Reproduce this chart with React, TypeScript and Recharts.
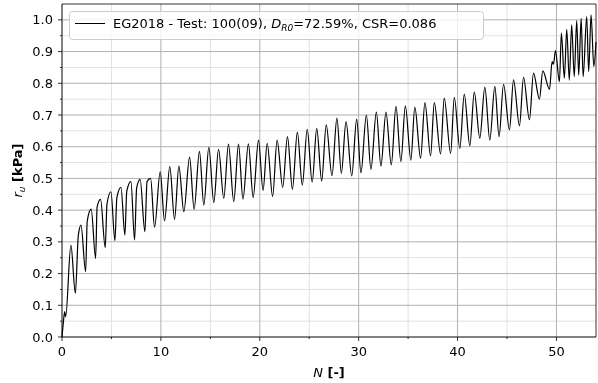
import React from 'react';
import { LineChart, Line, XAxis, YAxis, CartesianGrid, ReferenceLine, Legend, Label } from 'recharts';

// turning points of the pore pressure trace
const cycleN = [
  0, 0.15, 0.27, 0.37, 0.9, 1.35, 1.65, 1.92, 2.39, 2.55, 2.95, 3.4, 3.55, 3.9, 4.37, 4.55, 4.95,
  5.35, 5.55, 5.96, 6.36, 6.55, 6.97, 7.34, 7.55, 7.9, 8.38, 8.6, 8.96, 9.36, 9.93, 10.37, 10.9,
  11.38, 11.82, 12.32, 12.9, 13.36, 13.9, 14.34, 14.85, 15.35, 15.83, 16.36, 16.83, 17.37, 17.85,
  18.3, 18.85, 19.33, 19.87, 20.33, 20.75, 21.3, 21.75, 22.32, 22.8, 23.3, 23.8, 24.3, 24.8, 25.3,
  25.76, 26.26, 26.72, 27.3, 27.8, 28.25, 28.72, 29.3, 29.8, 30.23, 30.78, 31.24, 31.79, 32.25,
  32.76, 33.3, 33.77, 34.27, 34.72, 35.28, 35.68, 36.26, 36.7, 37.27, 37.65, 38.28, 38.65, 39.3,
  39.67, 40.23, 40.68, 41.24, 41.69, 42.25, 42.76, 43.26, 43.77, 44.2, 44.65, 45.25, 45.66, 46.26,
  46.67, 47.27, 47.68, 48.28, 48.62, 49.3, 49.56, 49.7, 49.9, 50.3, 50.5, 50.8, 51.04, 51.3, 51.54,
  51.8, 52.05, 52.25, 52.5, 52.7, 53.06, 53.26, 53.5, 53.78, 54.0,
];
const ruValues = [
  0, 0.05, 0.08, 0.064, 0.29, 0.138, 0.32, 0.353, 0.206, 0.365, 0.403, 0.248, 0.41, 0.434, 0.282, 0.42, 0.458,
  0.304, 0.44, 0.472, 0.322, 0.46, 0.49, 0.306, 0.47, 0.497, 0.332, 0.49, 0.5, 0.346, 0.521, 0.366, 0.537,
  0.371, 0.539, 0.395, 0.567, 0.403, 0.585, 0.416, 0.598, 0.424, 0.592, 0.437, 0.608, 0.427, 0.608,
  0.435, 0.609, 0.44, 0.621, 0.462, 0.611, 0.443, 0.621, 0.472, 0.632, 0.466, 0.646, 0.479, 0.655, 0.488,
  0.658, 0.492, 0.669, 0.509, 0.69, 0.516, 0.679, 0.508, 0.687, 0.518, 0.7, 0.529, 0.709, 0.539,
  0.709, 0.543, 0.727, 0.553, 0.729, 0.558, 0.725, 0.564, 0.739, 0.571, 0.739, 0.577, 0.753, 0.579,
  0.756, 0.595, 0.766, 0.603, 0.772, 0.627, 0.788, 0.621, 0.79, 0.632, 0.797, 0.653, 0.811, 0.666,
  0.819, 0.685, 0.832, 0.75, 0.839, 0.781, 0.868, 0.86, 0.903, 0.805, 0.958, 0.816, 0.97, 0.81, 0.984,
  0.821, 0.998, 0.826, 1.005, 0.821, 1.01, 0.837, 1.016, 0.853, 0.93,
];

const xMajorTicks = [0, 10, 20, 30, 40, 50];
const xMinorTicks = [5, 15, 25, 35, 45];
const yMajorTicks = [0, 0.1, 0.2, 0.3, 0.4, 0.5, 0.6, 0.7, 0.8, 0.9, 1.0];
const yMinorTicks = [0.05, 0.15, 0.25, 0.35, 0.45, 0.55, 0.65, 0.75, 0.85, 0.95];

const seriesName = 'EG2018 - Test: 100(09)';
const densityText = '=72.59%';
const csrText = 'CSR=0.086';

const FONT = 'DejaVu Sans, sans-serif';

const data = cycleN.map((n, i) => ({ n, ru: ruValues[i] }));

function XTick(props: any) {
  const { x, y, payload } = props;
  const major = xMajorTicks.includes(payload.value);
  const axisY = y - 4;
  return (
    <g>
      <line x1={x} x2={x} y1={axisY} y2={axisY + (major ? 4 : 2)} stroke="#000" strokeWidth={0.8} />
      {major && (
        <text x={x} y={axisY + 19} textAnchor="middle" fontFamily={FONT} fontSize={13} fill="#000">
          {payload.value}
        </text>
      )}
    </g>
  );
}

function YTick(props: any) {
  const { x, y, payload } = props;
  const v = payload.value;
  const major = Math.abs(v * 10 - Math.round(v * 10)) < 1e-6;
  const axisX = x + 4;
  return (
    <g>
      <line x1={axisX} x2={axisX - (major ? 4 : 2)} y1={y} y2={y} stroke="#000" strokeWidth={0.8} />
      {major && (
        <text x={axisX - 9} y={y + 4.6} textAnchor="end" fontFamily={FONT} fontSize={13} fill="#000">
          {v.toFixed(1)}
        </text>
      )}
    </g>
  );
}

function YLabel(props: any) {
  const vb = props.viewBox;
  const cx = vb.x + 22;
  const cy = vb.y + vb.height / 2;
  return (
    <text transform={`translate(${cx},${cy}) rotate(-90)`} textAnchor="middle" fontFamily={FONT} fontSize={13} fill="#000">
      <tspan fontStyle="italic">r</tspan>
      <tspan fontStyle="italic" fontSize={9} dy={3}>u</tspan>
      <tspan fontWeight="bold" dy={-3}> [kPa]</tspan>
    </text>
  );
}

function XLabel(props: any) {
  const vb = props.viewBox;
  return (
    <text x={vb.x + vb.width / 2} y={vb.y + 40} textAnchor="middle" fontFamily={FONT} fontSize={13} fill="#000">
      <tspan fontStyle="italic">N</tspan>
      <tspan fontWeight="bold"> [-]</tspan>
    </text>
  );
}

function LegendBox() {
  return (
    <svg width={416} height={30} style={{ display: 'block' }}>
      <rect x={0.5} y={0.5} width={414} height={28} rx={3} fill="#fff" fillOpacity={0.8} stroke="#cccccc" />
      <line x1={6} x2={36} y1={12.5} y2={12.5} stroke="#000" strokeWidth={1} />
      <text x={44} y={17.2} fontFamily={FONT} fontSize={13} fill="#000">
        {seriesName + ', '}
        <tspan fontStyle="italic">D</tspan>
        <tspan fontStyle="italic" fontSize={9} dy={3}>R0</tspan>
        <tspan dy={-3}>{densityText + ', ' + csrText}</tspan>
      </text>
    </svg>
  );
}

export default function App() {
  return (
    <div style={{ position: 'fixed', left: 0, top: 0 }}>
      <LineChart width={598} height={383} data={data} margin={{ top: 4, right: 2, left: 0, bottom: 0 }}>
        <CartesianGrid horizontalValues={yMinorTicks} verticalValues={xMinorTicks} stroke="#e2e2e2" strokeWidth={1} />
        <CartesianGrid horizontalValues={yMajorTicks} verticalValues={xMajorTicks} stroke="#b0b0b0" strokeWidth={1} />
        <XAxis
          dataKey="n"
          type="number"
          domain={[0, 54]}
          ticks={[...xMajorTicks, ...xMinorTicks].sort((a, b) => a - b)}
          interval={0}
          height={46}
          tickSize={4}
          tickMargin={0}
          tickLine={false}
          tick={<XTick />}
          axisLine={{ stroke: '#000', strokeWidth: 0.8 }}
        >
          <Label content={<XLabel />} />
        </XAxis>
        <YAxis
          type="number"
          domain={[0, 1.05]}
          ticks={[...yMajorTicks, ...yMinorTicks].sort((a, b) => a - b)}
          interval={0}
          width={62}
          tickSize={4}
          tickMargin={0}
          tickLine={false}
          tick={<YTick />}
          axisLine={{ stroke: '#000', strokeWidth: 0.8 }}
        >
          <Label content={<YLabel />} />
        </YAxis>
        <ReferenceLine y={1.05} stroke="#000" strokeWidth={0.8} />
        <ReferenceLine x={54} stroke="#000" strokeWidth={0.8} />
        <Line
          dataKey="ru"
          name={seriesName}
          type="monotone"
          stroke="#000"
          strokeWidth={1.2}
          dot={false}
          activeDot={false}
          isAnimationActive={false}
        />
        <Legend
          layout="vertical"
          align="center"
          verticalAlign="middle"
          content={<LegendBox />}
          wrapperStyle={{ top: 11, left: 69, width: 416, height: 30 }}
        />
      </LineChart>
    </div>
  );
}
